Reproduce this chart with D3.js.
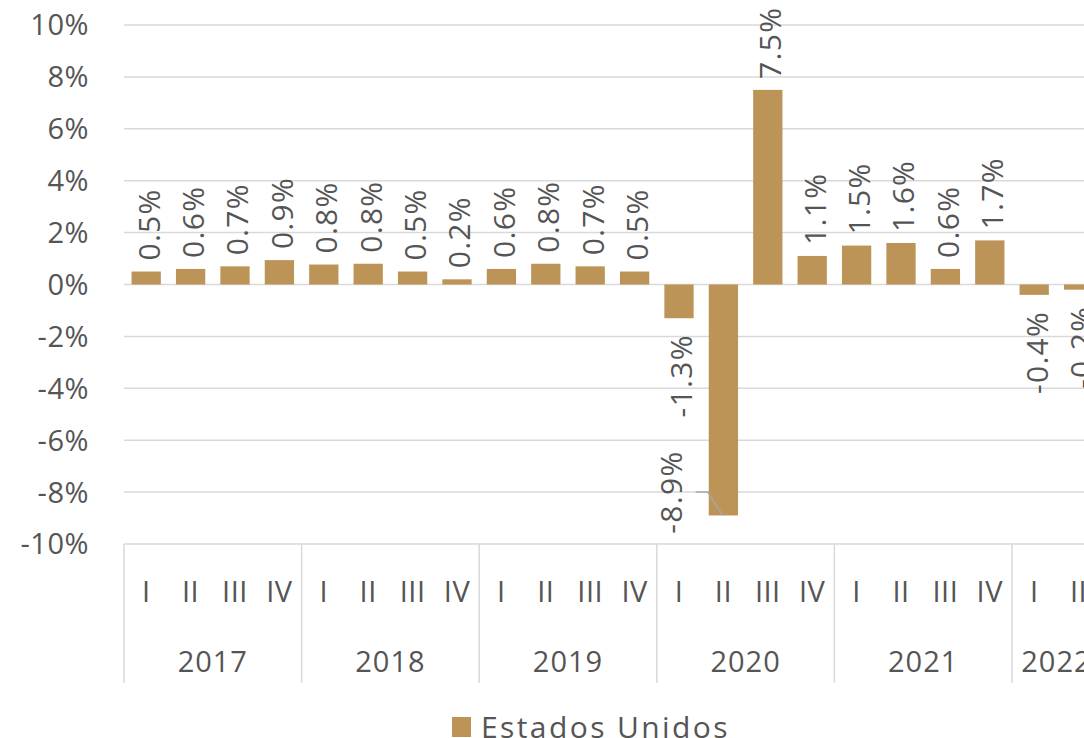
<!DOCTYPE html>
<html><head><meta charset="utf-8">
<script src="https://cdn.jsdelivr.net/npm/d3@7"></script>
<style>
html,body{margin:0;padding:0;background:#fff;overflow:hidden}
text{font-family:"Open Sans",sans-serif;fill:#555555}
</style></head>
<body><svg id="c" width="1084" height="738"></svg>
<script>
const years = ["2017","2018","2019","2020","2021","2022"];
const quarterLabels = ["I","II","III","IV","I","II","III","IV","I","II","III","IV","I","II","III","IV","I","II","III","IV","I","II"];
const yearOf = ["2017","2017","2017","2017","2018","2018","2018","2018","2019","2019","2019","2019","2020","2020","2020","2020","2021","2021","2021","2021","2022","2022"];
const values = [0.5,0.6,0.7,0.94,0.77,0.8,0.5,0.2,0.6,0.8,0.7,0.5,-1.3,-8.9,7.5,1.1,1.5,1.6,0.6,1.7,-0.4,-0.2];
const labels = ["0.5%","0.6%","0.7%","0.9%","0.8%","0.8%","0.5%","0.2%","0.6%","0.8%","0.7%","0.5%","-1.3%","-8.9%","7.5%","1.1%","1.5%","1.6%","0.6%","1.7%","-0.4%","-0.2%"];
const yTicks = [-10,-8,-6,-4,-2,0,2,4,6,8,10];
const yTickLabels = ["-10%","-8%","-6%","-4%","-2%","0%","2%","4%","6%","8%","10%"];
const seriesName = "Estados Unidos";

const svg = d3.select("#c");
const x0 = 124, x1 = 124 + 44.4*22;
const idx = d3.range(values.length);
const x = d3.scaleBand().domain(idx).range([x0, x1]).paddingInner(0.34).paddingOuter(0.17);
const y = d3.scaleLinear().domain([-10,10]).range([544,25]);
const barColor = "#BD9457";
const grid = "#d9d9d9";

// gridlines
svg.append("g").selectAll("line").data(yTicks).join("line")
  .attr("x1", x0).attr("x2", 1084)
  .attr("y1", d=>y(d)).attr("y2", d=>y(d))
  .attr("stroke", grid).attr("stroke-width", 1.5);

// y axis labels
svg.append("g").selectAll("text").data(yTicks).join("text")
  .attr("x", 89).attr("y", d=>y(d)).attr("dy","0.36em")
  .attr("text-anchor","end").attr("font-size",29).attr("letter-spacing",0.5)
  .text((d,i)=>yTickLabels[i]);

// bars
svg.append("g").selectAll("rect").data(idx).join("rect")
  .attr("x", i=>x(i)).attr("width", x.bandwidth())
  .attr("y", i=>y(Math.max(0,values[i])))
  .attr("height", i=>Math.abs(y(values[i])-y(0)))
  .attr("fill", barColor);

// data labels
const gap = 11;
svg.append("g").selectAll("text").data(idx.filter(i=>i!==13)).join("text")
  .attr("transform", i=>{
    const cx = x(i)+x.bandwidth()/2 + 2.5;
    const yy = values[i]>=0 ? y(values[i])-gap : y(values[i])+gap+5;
    return `translate(${cx},${yy}) rotate(-90)`;
  })
  .attr("dy","0.36em")
  .attr("text-anchor", i=> values[i]>=0 ? "start" : "end")
  .attr("font-size",30).attr("letter-spacing",1.3)
  .text(i=>labels[i]);

// special label for -8.9% with leader line
{
  const i = 13;
  const bx = x(i), by = y(values[i]);
  svg.append("path")
    .attr("d", `M${bx-13},${y(-8)} H${bx-1} L${bx+14},${by}`)
    .attr("fill","none").attr("stroke","#a6a6a6").attr("stroke-width",1.5);
  svg.append("text")
    .attr("transform", `translate(${bx-38},${y(-8)}) rotate(-90)`)
    .attr("dy","0.36em").attr("text-anchor","middle").attr("font-size",30).attr("letter-spacing",1.3)
    .text(labels[i]);
}

// category axis box
const axG = svg.append("g");
const step = x.step();
years.forEach(yr=>{
  const xx = x0 + step*yearOf.indexOf(yr);
  axG.append("line").attr("x1",xx).attr("x2",xx).attr("y1",544).attr("y2",683)
    .attr("stroke",grid).attr("stroke-width",1.5);
});
axG.selectAll("text.q").data(idx).join("text").attr("class","q")
  .attr("x", i=>x(i)+x.bandwidth()/2).attr("y",592).attr("dy","0.36em")
  .attr("text-anchor","middle").attr("font-size",29).attr("letter-spacing",0.5)
  .text(i=>quarterLabels[i]);
axG.selectAll("text.yr").data(years).join("text").attr("class","yr")
  .attr("x", yr=>{
    const s = yearOf.indexOf(yr);
    const n = yearOf.filter(v=>v===yr).length;
    return x0 + step*(s + n/2);
  })
  .attr("y",662).attr("dy","0.36em")
  .attr("text-anchor","middle").attr("font-size",29).attr("letter-spacing",1)
  .text(d=>d);

// legend
svg.append("rect").attr("x",452).attr("y",717).attr("width",19).attr("height",20).attr("fill",barColor);
svg.append("text").attr("x",481).attr("y",727).attr("dy","0.36em").attr("font-size",30).attr("letter-spacing",2.4).text(seriesName);
</script></body></html>
